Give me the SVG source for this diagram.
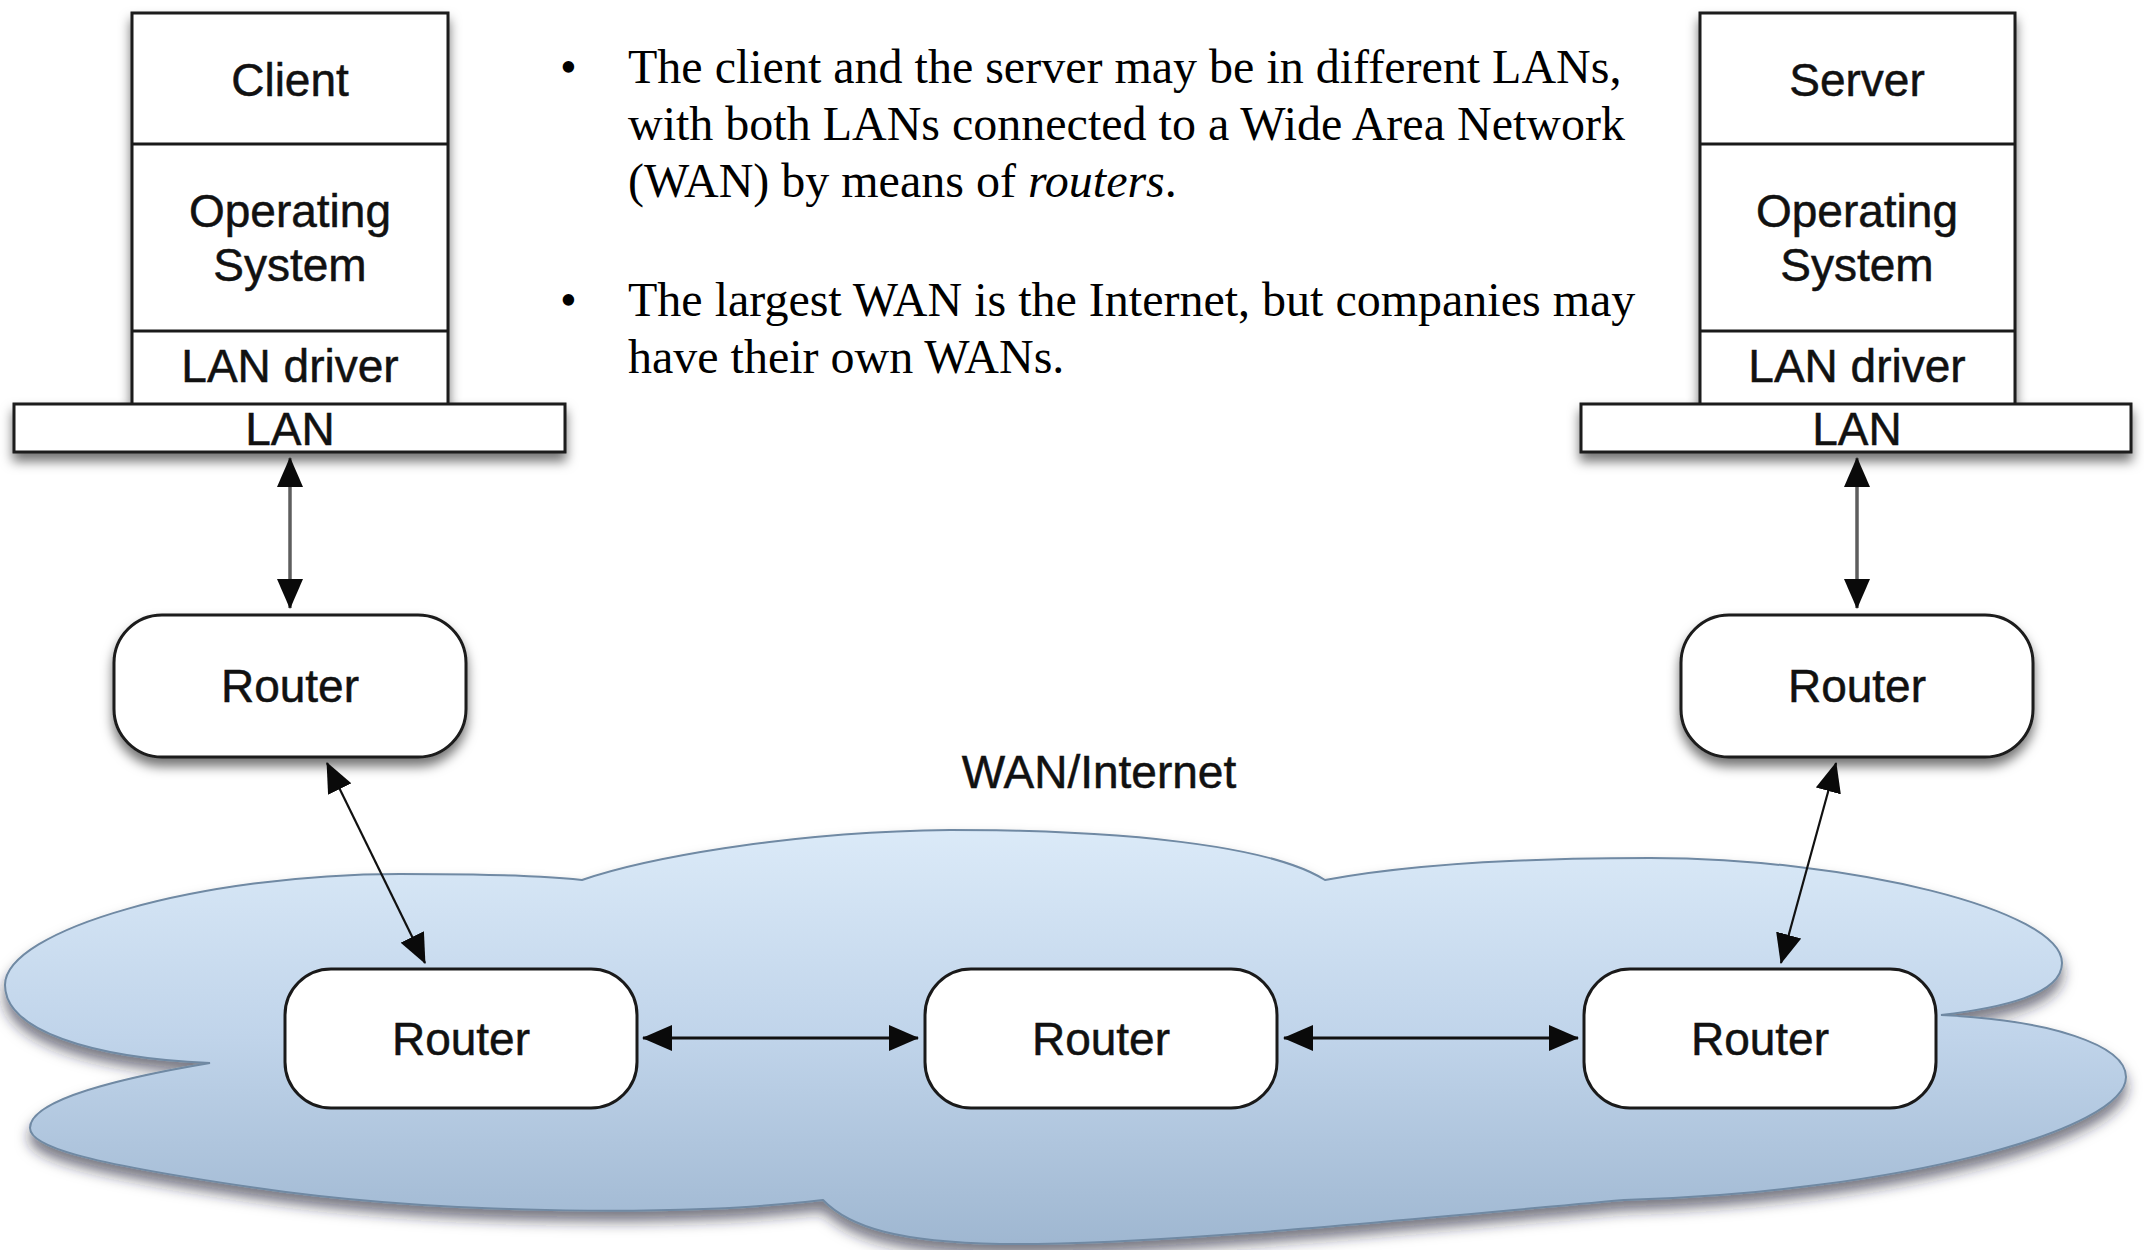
<svg xmlns="http://www.w3.org/2000/svg" width="2144" height="1250" viewBox="0 0 2144 1250">
  <style>
    .box { fill: #ffffff; stroke: #1a1a1a; stroke-width: 3; }
    .div { stroke: #1a1a1a; stroke-width: 3; fill: none; }
    .router { fill: #ffffff; stroke: #1a1a1a; stroke-width: 3; }
    .lbl { font-family: "Liberation Sans", Arial, Helvetica, sans-serif; font-size: 46px; fill: #111111; stroke: #111111; stroke-width: 0.5; text-anchor: middle; }
    .body { font-family: "Liberation Serif", "Times New Roman", serif; font-size: 48px; fill: #000000; }
    .link { stroke: #111111; fill: none; marker-start: url(#ah); marker-end: url(#ah); }
    .vert { stroke: #5e5e5e; stroke-width: 3.5; }
    .diag { stroke-width: 2.2; }
    .horiz { stroke-width: 3.2; }
  </style>
  <defs>
    <marker id="ah" viewBox="0 0 30 26" refX="29" refY="13" markerWidth="30" markerHeight="26" markerUnits="userSpaceOnUse" orient="auto-start-reverse">
      <path d="M0,0 L30,13 L0,26 z" fill="#0a0a0a"/>
    </marker>
    <linearGradient id="cloudFill" x1="0" y1="830" x2="0" y2="1245" gradientUnits="userSpaceOnUse">
      <stop offset="0" stop-color="#dbeaf8"/>
      <stop offset="0.5" stop-color="#c0d4ea"/>
      <stop offset="1" stop-color="#9fb7d1"/>
    </linearGradient>
    <filter id="shadow" x="-10%" y="-20%" width="120%" height="150%">
      <feDropShadow dx="0" dy="8" stdDeviation="6" flood-color="#000000" flood-opacity="0.55"/>
    </filter>
    <filter id="cloudShadow" x="-5%" y="-10%" width="110%" height="130%">
      <feDropShadow dx="0" dy="10" stdDeviation="7" flood-color="#1a2430" flood-opacity="0.6"/>
    </filter>
  </defs>

  <rect x="0" y="0" width="2144" height="1250" fill="#ffffff"/>

  <!-- WAN cloud -->
  <g id="wan-cloud">
    <path filter="url(#cloudShadow)" fill="url(#cloudFill)" stroke="#6f89a3" stroke-width="2"
      d="M210,1063
         C90,1058 5,1030 5,985
         C5,930 200,874 400,874
         C480,874 545,876 582,880
         C640,860 780,832 950,830
         C1120,830 1270,845 1325,880
         C1400,866 1500,858 1650,858
         C1850,858 2062,910 2062,963
         C2062,995 2000,1008 1941,1015
         C2050,1020 2126,1045 2126,1077
         C2126,1130 1900,1192 1624,1200
         C1400,1220 1150,1246 1000,1244
         C900,1242 850,1228 823,1200
         C700,1215 450,1217 250,1187
         C80,1162 30,1146 30,1128
         C30,1100 120,1078 210,1063 Z"/>
    <text class="lbl" x="1099" y="788" font-size="44">WAN/Internet</text>
  </g>

  <!-- Client protocol stack -->
  <g id="client-stack">
    <g filter="url(#shadow)">
      <rect class="box" x="132" y="13" width="316" height="392"/>
      <rect class="box" x="14" y="404" width="551" height="48"/>
    </g>
    <line class="div" x1="132" y1="144" x2="448" y2="144"/>
    <line class="div" x1="132" y1="331" x2="448" y2="331"/>
    <text class="lbl" x="290" y="96">Client</text>
    <text class="lbl" x="290" y="227">Operating</text>
    <text class="lbl" x="290" y="281">System</text>
    <text class="lbl" x="290" y="382">LAN driver</text>
    <text class="lbl" x="290" y="445">LAN</text>
  </g>

  <!-- Server protocol stack -->
  <g id="server-stack">
    <g filter="url(#shadow)">
      <rect class="box" x="1700" y="13" width="315" height="392"/>
      <rect class="box" x="1581" y="404" width="550" height="48"/>
    </g>
    <line class="div" x1="1700" y1="144" x2="2015" y2="144"/>
    <line class="div" x1="1700" y1="331" x2="2015" y2="331"/>
    <text class="lbl" x="1857" y="96">Server</text>
    <text class="lbl" x="1857" y="227">Operating</text>
    <text class="lbl" x="1857" y="281">System</text>
    <text class="lbl" x="1857" y="382">LAN driver</text>
    <text class="lbl" x="1857" y="445">LAN</text>
  </g>

  <!-- Bulleted notes -->
  <g id="notes">
    <text class="body" x="560" y="83">•</text>
    <text class="body" x="628" y="83">The client and the server may be in different LANs,</text>
    <text class="body" x="628" y="140">with both LANs connected to a Wide Area Network</text>
    <text class="body" x="628" y="197">(WAN) by means of <tspan font-style="italic">routers</tspan>.</text>
    <text class="body" x="560" y="316">•</text>
    <text class="body" x="628" y="316">The largest WAN is the Internet, but companies may</text>
    <text class="body" x="628" y="373">have their own WANs.</text>
  </g>

  <!-- Routers -->
  <g id="router-client-lan">
    <rect class="router" filter="url(#shadow)" x="114" y="615" width="352" height="142" rx="48" ry="48"/>
    <text class="lbl" x="290" y="702">Router</text>
  </g>
  <g id="router-server-lan">
    <rect class="router" filter="url(#shadow)" x="1681" y="615" width="352" height="142" rx="48" ry="48"/>
    <text class="lbl" x="1857" y="702">Router</text>
  </g>
  <g id="router-wan-left">
    <rect class="router" x="285" y="969" width="352" height="139" rx="46" ry="46"/>
    <text class="lbl" x="461" y="1055">Router</text>
  </g>
  <g id="router-wan-mid">
    <rect class="router" x="925" y="969" width="352" height="139" rx="46" ry="46"/>
    <text class="lbl" x="1101" y="1055">Router</text>
  </g>
  <g id="router-wan-right">
    <rect class="router" x="1584" y="969" width="352" height="139" rx="46" ry="46"/>
    <text class="lbl" x="1760" y="1055">Router</text>
  </g>

  <!-- Connectors -->
  <g id="connectors">
    <line class="link vert" x1="290" y1="458" x2="290" y2="608"/>
    <line class="link vert" x1="1857" y1="458" x2="1857" y2="608"/>
    <line class="link diag" x1="327" y1="763" x2="425" y2="963"/>
    <line class="link diag" x1="1836" y1="763" x2="1781" y2="963"/>
    <line class="link horiz" x1="643" y1="1038" x2="918" y2="1038"/>
    <line class="link horiz" x1="1284" y1="1038" x2="1578" y2="1038"/>
  </g>
</svg>
